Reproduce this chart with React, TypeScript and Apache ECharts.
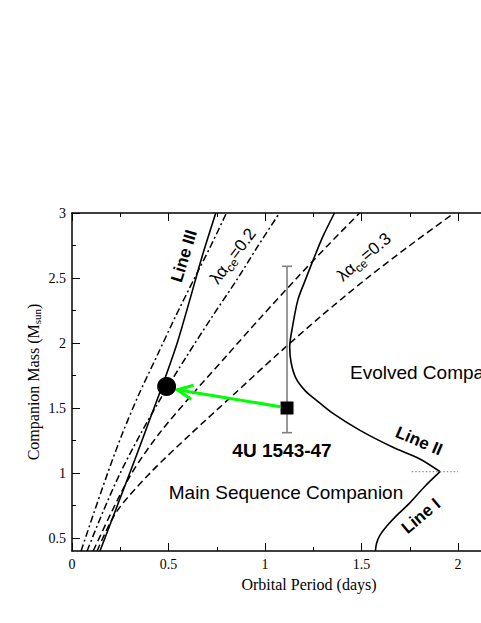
import React, { useEffect, useRef } from 'react';
import * as echarts from 'echarts';

// ---- data (Orbital Period [days], Companion Mass [Msun]) ----
const lineIII = [[0.145, 0.4], [0.235, 0.75], [0.325, 1.1], [0.4, 1.4], [0.475, 1.7], [0.545, 2.0], [0.61, 2.33], [0.675, 2.67], [0.745, 3.0]];
const lineII = [[1.36, 3.0], [1.3, 2.82], [1.25, 2.64], [1.205, 2.47], [1.17, 2.33], [1.143, 2.13], [1.128, 1.97], [1.135, 1.85], [1.16, 1.73], [1.21, 1.63], [1.27, 1.555], [1.35, 1.46], [1.49, 1.33], [1.66, 1.2], [1.8, 1.11], [1.907, 1.01]];
const lineI = [[1.907, 1.01], [1.83, 0.9], [1.75, 0.77], [1.68, 0.67], [1.63, 0.59], [1.595, 0.52], [1.578, 0.46], [1.572, 0.4]];
const dashDotA = [[0.047, 0.4], [0.115, 0.7], [0.185, 1.0], [0.26, 1.3], [0.345, 1.6], [0.44, 1.9], [0.535, 2.2], [0.635, 2.5], [0.72, 2.75], [0.8, 3.0]];
const dashDotB = [[0.078, 0.4], [0.16, 0.7], [0.25, 1.0], [0.355, 1.3], [0.47, 1.6], [0.595, 1.9], [0.725, 2.2], [0.86, 2.5], [0.965, 2.75], [1.075, 3.0]];
const dashedC = [[0.11, 0.4], [0.205, 0.7], [0.31, 1.0], [0.45, 1.3], [0.62, 1.6], [0.8, 1.9], [0.98, 2.2], [1.165, 2.5], [1.325, 2.75], [1.49, 3.0]];
const dashedD = [[0.13, 0.4], [0.23, 0.7], [0.405, 1.0], [0.615, 1.3], [0.835, 1.6], [1.055, 1.9], [1.285, 2.2], [1.53, 2.5], [1.75, 2.75], [1.98, 3.0]];
const dottedRef = [[1.76, 1.01], [2.0, 1.01]];
const sourcePoint = [[1.114, 1.5, 1.31, 2.59]]; // x, y, low, high
const solutionPoint = [[0.49, 1.665]];
const arrow = [[1.08, 1.51, 0.545, 1.64]]; // tail x, tail y, tip x, tip y
const xTickValues = [0, 0.5, 1, 1.5, 2];
const xMinorTickValues = [0.25, 0.75, 1.25, 1.75];
const yTickValues = [0.5, 1, 1.5, 2, 2.5, 3];
const yMinorTickValues = [0.75, 1.25, 1.75, 2.25, 2.75];
const X_MAX = 2.119; // visible part of the axis (the plot continues past the right edge)

const deg = (d: number) => (d * Math.PI) / 180;

let measureCtx: CanvasRenderingContext2D | null = null;
function textWidth(t: string, font: string) {
  if (!measureCtx) measureCtx = document.createElement('canvas').getContext('2d');
  measureCtx!.font = font;
  return measureCtx!.measureText(t).width;
}

// text with a subscript: parts = [text, isSub]
function subText(parts: [string, boolean][], family: string, size: number, subSize: number, subDy: number, weight = 'normal') {
  const fonts = parts.map(([, sub]) => `${weight} ${sub ? subSize : size}px "${family}"`);
  const widths = parts.map(([t], i) => textWidth(t, fonts[i]));
  const total = widths.reduce((a, b) => a + b, 0);
  let x = -total / 2;
  return parts.map(([t, sub], i) => {
    const el = {
      type: 'text',
      x,
      y: sub ? subDy : 0,
      style: { text: t, font: fonts[i], fill: '#000', align: 'left', verticalAlign: 'middle' },
    };
    x += widths[i];
    return el;
  });
}

export default function App() {
  const ref = useRef<HTMLDivElement>(null);
  useEffect(() => {
    document.body.style.margin = '0';
    const chart = echarts.init(ref.current!, null, { renderer: 'svg' });
    const serif = 'Liberation Serif';
    const sans = 'Liberation Sans';
    const mkLine = (data: number[][], type: any, width = 1.5) => ({
      type: 'line',
      data,
      symbol: 'none',
      showSymbol: false,
      smooth: 0.3,
      silent: true,
      lineStyle: { color: '#000', width, type },
      z: 2,
    });
    const xAx = (position: string, values: number[], len: number, showLine: boolean, showLabel: boolean) => ({
      type: 'value',
      min: 0,
      max: X_MAX,
      position,
      axisLine: { show: showLine, onZero: false, lineStyle: { color: '#000', width: 1.5 } },
      axisTick: { show: true, inside: true, length: len, customValues: values, lineStyle: { color: '#000', width: 1 } },
      axisLabel: showLabel
        ? { show: true, fontFamily: serif, fontSize: 14, color: '#000', margin: 6, customValues: values }
        : { show: false },
      splitLine: { show: false },
    });
    const yAx = (values: number[], len: number, showLine: boolean, showLabel: boolean) => ({
      type: 'value',
      min: 0.4,
      max: 3,
      position: 'left',
      axisLine: { show: showLine, onZero: false, lineStyle: { color: '#000', width: 1.5 } },
      axisTick: { show: true, inside: true, length: len, customValues: values, lineStyle: { color: '#000', width: 1 } },
      axisLabel: showLabel
        ? { show: true, fontFamily: serif, fontSize: 14, color: '#000', margin: 6, customValues: values }
        : { show: false },
      splitLine: { show: false },
    });
    const lamLabel = (v: string) =>
      subText([['λα', false], ['ce', true], [`=${v}`, false]], sans, 17, 12, 5);

    chart.setOption({
      animation: false,
      grid: { left: 72, top: 213, right: 0, bottom: 72, containLabel: false },
      xAxis: [
        xAx('bottom', xTickValues, 8, true, true),
        xAx('bottom', xMinorTickValues, 4, false, false),
        xAx('top', xTickValues, 8, true, false),
        xAx('top', xMinorTickValues, 4, false, false),
      ],
      yAxis: [yAx(yTickValues, 8, true, true), yAx(yMinorTickValues, 4, false, false)],
      series: [
        mkLine(dashDotA, [7, 3, 2, 3]),
        mkLine(dashDotB, [7, 3, 2, 3]),
        mkLine(dashedC, [7, 4]),
        mkLine(dashedD, [7, 4]),
        mkLine(lineIII, 'solid', 1.6),
        mkLine(lineII, 'solid', 1.6),
        mkLine(lineI, 'solid', 1.6),
        {
          type: 'line',
          data: dottedRef,
          symbol: 'none',
          silent: true,
          lineStyle: { color: '#777', width: 1, type: [1.5, 2] },
        },
        {
          type: 'custom',
          data: sourcePoint,
          encode: { x: 0, y: [1, 2, 3] },
          z: 4,
          renderItem: (params: any, api: any) => {
            const x = api.value(0);
            const y = api.value(1);
            const lo = api.value(2);
            const hi = api.value(3);
            const pt = api.coord([x, hi]);
            const pb = api.coord([x, lo]);
            const pc = api.coord([x, y]);
            const cap = 5;
            const s = 6.5;
            const st = { stroke: '#808080', lineWidth: 1.6 };
            return {
              type: 'group',
              children: [
                { type: 'line', shape: { x1: pt[0], y1: pt[1], x2: pb[0], y2: pb[1] }, style: st },
                { type: 'line', shape: { x1: pt[0] - cap, y1: pt[1], x2: pt[0] + cap, y2: pt[1] }, style: st },
                { type: 'line', shape: { x1: pb[0] - cap, y1: pb[1], x2: pb[0] + cap, y2: pb[1] }, style: st },
                { type: 'rect', shape: { x: pc[0] - s, y: pc[1] - s, width: 2 * s, height: 2 * s }, style: { fill: '#000' } },
              ],
            };
          },
        },
        {
          type: 'custom',
          data: arrow,
          encode: { x: [0, 2], y: [1, 3] },
          z: 5,
          renderItem: (params: any, api: any) => {
            const tail = api.coord([api.value(0), api.value(1)]);
            const tip = api.coord([api.value(2), api.value(3)]);
            const a = Math.atan2(tail[1] - tip[1], tail[0] - tip[0]);
            const L = 17;
            const spread = deg(25);
            const h1 = [tip[0] + L * Math.cos(a - spread), tip[1] + L * Math.sin(a - spread)];
            const h2 = [tip[0] + L * Math.cos(a + spread), tip[1] + L * Math.sin(a + spread)];
            const st = { stroke: '#00ff00', lineWidth: 3, fill: null };
            return {
              type: 'group',
              children: [
                { type: 'line', shape: { x1: tail[0], y1: tail[1], x2: tip[0], y2: tip[1] }, style: st },
                { type: 'polyline', shape: { points: [h1, tip, h2] }, style: st },
              ],
            };
          },
        },
        {
          type: 'scatter',
          data: solutionPoint,
          symbol: 'circle',
          symbolSize: 19,
          itemStyle: { color: '#000', opacity: 1 },
          silent: true,
          z: 6,
        },
      ],
      graphic: [
        // axis titles
        { type: 'text', x: 309, y: 584, z: 10, style: { text: 'Orbital Period (days)', font: `16px "${serif}"`, fill: '#000', align: 'center', verticalAlign: 'middle' } },
        { type: 'group', x: 33, y: 382, rotation: deg(90), z: 10, children: subText([['Companion Mass (M', false], ['sun', true], [')', false]], serif, 16, 11, 4) },
        // annotations
        { type: 'text', x: 184, y: 256, rotation: deg(73), z: 10, style: { text: 'Line III', font: `bold 17px "${sans}"`, fill: '#000', align: 'center', verticalAlign: 'middle' } },
        { type: 'group', x: 233, y: 256, rotation: deg(53), z: 10, children: lamLabel('0.2') },
        { type: 'group', x: 364, y: 257, rotation: deg(40), z: 10, children: lamLabel('0.3') },
        { type: 'text', x: 350, y: 372, z: 10, style: { text: 'Evolved Companion', font: `19px "${sans}"`, fill: '#000', align: 'left', verticalAlign: 'middle' } },
        { type: 'text', x: 419, y: 441, rotation: deg(-23), z: 10, style: { text: 'Line II', font: `bold 17px "${sans}"`, fill: '#000', align: 'center', verticalAlign: 'middle' } },
        { type: 'text', x: 282, y: 450, z: 10, style: { text: '4U 1543-47', font: `bold 19px "${sans}"`, fill: '#000', align: 'center', verticalAlign: 'middle' } },
        { type: 'text', x: 286, y: 492, z: 10, style: { text: 'Main Sequence Companion', font: `19px "${sans}"`, fill: '#000', align: 'center', verticalAlign: 'middle' } },
        { type: 'text', x: 421, y: 516, rotation: deg(40), z: 10, style: { text: 'Line I', font: `bold 17px "${sans}"`, fill: '#000', align: 'center', verticalAlign: 'middle' } },
      ],
    });
    return () => chart.dispose();
  }, []);
  return <div ref={ref} style={{ width: 481, height: 623 }} />;
}
